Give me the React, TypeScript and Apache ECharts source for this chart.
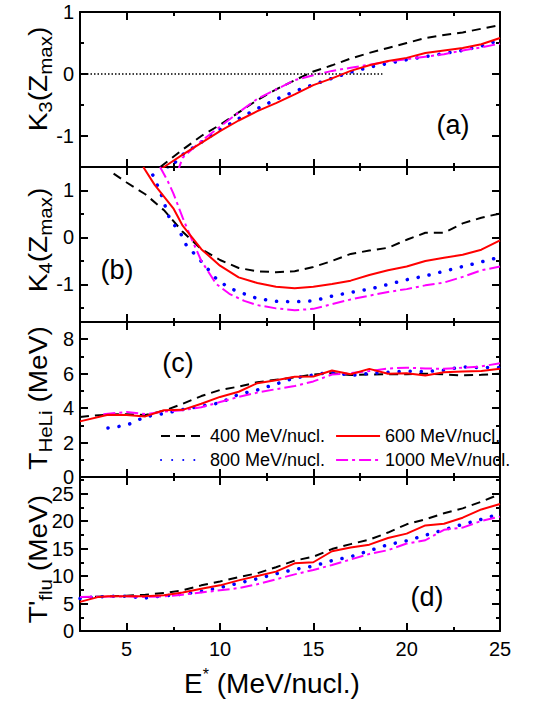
import React, { useEffect, useRef } from "react";
import * as echarts from "echarts";

const FONT = "'Liberation Sans', Arial, Helvetica, sans-serif";

// ---------- axis values ----------
const X_MIN = 2.5;
const X_MAX = 25;
const X_MAJOR = [5, 10, 15, 20, 25];
const X_MINOR = [7.5, 12.5, 17.5, 22.5];

const Y_MIN = [-1.5, -1.8, 0, 0];
const Y_MAX = [1, 1.5, 9, 28];
const Y_MAJOR_A = [-1, 0, 1];
const Y_MINOR_A = [-1.5, -0.5, 0.5];
const Y_MAJOR_B = [-1, 0, 1];
const Y_MINOR_B = [-1.5, -0.5, 0.5, 1.5];
const Y_MAJOR_C = [0, 2, 4, 6, 8];
const Y_MINOR_C = [1, 3, 5, 7, 9];
const Y_MAJOR_D = [0, 5, 10, 15, 20, 25];
const Y_MINOR_D = [2.5, 7.5, 12.5, 17.5, 22.5, 27.5];

const SERIES_NAMES = ["400 MeV/nucl.", "600 MeV/nucl.", "800 MeV/nucl.", "1000 MeV/nucl."];

// ---------- panel (a): K3(Zmax) ----------
const A400_X = [6.8, 8, 9, 10, 11, 12, 13, 14, 15, 16, 17, 18, 19, 20, 21, 22, 23, 24, 25];
const A400_Y = [-1.5, -1.22, -1.0, -0.82, -0.62, -0.42, -0.25, -0.1, 0.04, 0.14, 0.25, 0.34, 0.42, 0.5, 0.58, 0.63, 0.67, 0.73, 0.79];
const A600_X = [6.5, 7, 8, 9, 10, 11, 12, 13, 14, 15, 16, 17, 18, 19, 20, 21, 22, 23, 24, 25];
const A600_Y = [-1.62, -1.5, -1.3, -1.11, -0.92, -0.75, -0.6, -0.47, -0.33, -0.18, -0.07, 0.05, 0.14, 0.21, 0.26, 0.34, 0.38, 0.42, 0.48, 0.58];
const A800_X = [7.2, 8, 9, 10, 11, 12, 13, 14, 15, 16, 17, 18, 19, 20, 21, 22, 23, 24, 25];
const A800_Y = [-1.55, -1.3, -1.1, -0.9, -0.72, -0.56, -0.41, -0.28, -0.17, -0.07, 0.03, 0.11, 0.17, 0.23, 0.28, 0.33, 0.38, 0.45, 0.55];
const A1000_X = [7.7, 8, 9, 10, 11, 12, 13, 14, 15, 16, 17, 18, 19, 20, 21, 22, 23, 24, 25];
const A1000_Y = [-1.6, -1.35, -1.08, -0.85, -0.62, -0.4, -0.25, -0.1, -0.02, 0.05, 0.1, 0.15, 0.2, 0.24, 0.28, 0.32, 0.38, 0.43, 0.49];
const ZERO_X = [2.5, 18.7];
const ZERO_Y = [0, 0];

// ---------- panel (b): K4(Zmax) ----------
const B400_X = [4.3, 5, 6, 7, 8, 9, 10, 11, 12, 13, 14, 15, 16, 17, 18, 19, 20, 21, 22, 23, 24, 25];
const B400_Y = [1.36, 1.17, 0.92, 0.58, 0.12, -0.25, -0.48, -0.65, -0.72, -0.74, -0.72, -0.63, -0.5, -0.35, -0.28, -0.22, -0.05, 0.1, 0.1, 0.3, 0.42, 0.51];
const B600_X = [5.89, 6.5, 7, 7.5, 8, 8.5, 9, 10, 11, 12, 13, 14, 15, 16, 17, 18, 19, 20, 21, 22, 23, 24, 25];
const B600_Y = [1.5, 1.12, 0.87, 0.62, 0.25, 0.0, -0.25, -0.6, -0.85, -0.97, -1.05, -1.08, -1.05, -0.99, -0.92, -0.8, -0.7, -0.62, -0.5, -0.43, -0.37, -0.26, -0.06];
const B800_X = [6.4, 6.8, 7.3, 7.9, 8.2, 8.8, 9.8, 10.5, 11.3, 12, 13, 14, 15, 16, 17, 18, 19, 20, 21, 22, 23, 24, 25];
const B800_Y = [1.33, 0.97, 0.4, 0.08, -0.17, -0.42, -0.88, -1.08, -1.2, -1.3, -1.36, -1.37, -1.35, -1.25, -1.17, -1.1, -1.0, -0.9, -0.82, -0.72, -0.62, -0.52, -0.42];
const B1000_X = [6.79, 7.2, 7.5, 8, 8.5, 9, 9.8, 10.5, 11.3, 12, 13, 14, 15, 16, 17, 18, 19, 20, 21, 22, 23, 24, 25];
const B1000_Y = [1.5, 1.2, 0.94, 0.42, -0.05, -0.5, -0.99, -1.2, -1.35, -1.44, -1.51, -1.55, -1.52, -1.42, -1.32, -1.24, -1.16, -1.1, -1.02, -0.96, -0.84, -0.7, -0.62];

// ---------- panel (c): T_HeLi ----------
const C400_X = [2.5, 3, 4, 5, 6, 7, 8, 9, 10, 11, 12, 13, 14, 15, 16, 17, 18, 19, 20, 21, 22, 23, 24, 25];
const C400_Y = [3.48, 3.55, 3.62, 3.65, 3.6, 3.85, 4.25, 4.7, 5.05, 5.25, 5.5, 5.65, 5.78, 5.95, 6.03, 5.92, 5.95, 5.97, 5.97, 6.0, 5.96, 5.9, 5.93, 6.0];
const C600_X = [2.5, 4, 5, 6, 7, 8, 9, 10, 11, 12, 13, 14, 15, 16, 17, 18, 19, 20, 21, 22, 23, 24, 25];
const C600_Y = [3.23, 3.62, 3.6, 3.52, 3.88, 3.9, 4.25, 4.65, 4.95, 5.45, 5.62, 5.82, 5.84, 6.18, 5.97, 6.28, 5.99, 6.03, 5.89, 6.08, 6.12, 6.15, 6.28];
const C800_X = [4, 5, 6, 7, 8, 9, 10, 11, 12, 13, 14, 15, 16, 17, 18, 19, 20, 21, 22, 23, 24, 25];
const C800_Y = [2.85, 3.0, 3.5, 3.68, 3.92, 4.12, 4.3, 4.8, 5.05, 5.4, 5.75, 5.92, 6.1, 5.89, 6.02, 6.08, 6.15, 6.12, 6.2, 6.4, 6.35, 6.36];
const C1000_X = [3.75, 5, 6, 7, 8, 9, 10, 11, 12, 13, 14, 15, 16, 17, 18, 19, 20, 21, 22, 23, 24, 25];
const C1000_Y = [3.65, 3.77, 3.65, 3.8, 3.88, 4.05, 4.35, 4.65, 4.9, 5.1, 5.28, 5.55, 5.95, 6.03, 6.15, 6.3, 6.35, 6.3, 6.28, 6.35, 6.42, 6.61];

// ---------- panel (d): T'flu ----------
const D400_X = [2.5, 3, 4, 5, 6, 7, 8, 9, 10, 11, 12, 13, 14, 15, 16, 17, 18, 19, 20, 21, 22, 23, 24, 25];
const D400_Y = [6.2, 6.2, 6.3, 6.4, 6.6, 6.9, 7.4, 8.3, 9.0, 9.8, 10.5, 11.6, 12.8, 13.5, 14.9, 15.8, 16.6, 17.9, 19.4, 20.3, 21.4, 22.3, 23.5, 24.9];
const D600_X = [2.5, 3.5, 4, 5, 6, 7, 8, 9, 10, 11, 12, 13, 14, 15, 16, 17, 18, 19, 20, 21, 22, 23, 24, 25];
const D600_Y = [5.3, 6.2, 6.3, 6.3, 6.3, 6.5, 7.0, 7.7, 8.3, 9.2, 10.0, 10.8, 12.3, 12.5, 14.5, 15.2, 15.7, 16.9, 17.7, 19.2, 19.5, 20.6, 22.1, 23.1];
const D800_X = [2.5, 3, 4, 5, 6, 7, 8, 9, 10, 11, 12, 13, 14, 15, 16, 17, 18, 19, 20, 21, 22, 23, 24, 25];
const D800_Y = [5.9, 6.1, 6.3, 6.3, 6.0, 6.4, 6.7, 7.2, 7.9, 8.7, 9.5, 10.4, 11.2, 11.8, 12.8, 13.5, 14.6, 15.7, 16.4, 17.4, 18.4, 19.4, 20.3, 21.3];
const D1000_X = [2.5, 4, 5, 6, 7, 8, 9, 10, 11, 12, 13, 14, 15, 16, 17, 18, 19, 20, 21, 22, 23, 24, 25];
const D1000_Y = [6.2, 6.25, 6.3, 6.2, 6.3, 6.6, 7.0, 7.4, 7.8, 8.5, 9.4, 10.3, 11.1, 12.0, 13.0, 14.0, 14.7, 15.9, 16.5, 18.4, 18.8, 20.0, 20.8];

// ---------- layout ----------
const GRID_LEFT = 80;
const GRID_WIDTH = 420;
const GRID_TOPS = [12, 167, 322, 477];
const GRID_HEIGHTS = [155, 155, 155, 154];

const STYLES = [
  { color: "#000000", type: [9, 6] as number[], width: 2, cap: "butt" },
  { color: "#ff0000", type: "solid" as any, width: 2, cap: "butt" },
  { color: "#0000ff", type: [0.1, 11] as number[], width: 3.5, cap: "round" },
  { color: "#ff00ff", type: [12, 4, 3, 4] as number[], width: 2, cap: "butt" },
];

function pairs(xs: number[], ys: number[]) {
  return xs.map((x, i) => [x, ys[i]]);
}

const PANEL_DATA: number[][][] = [
  [A400_X, A400_Y, A600_X, A600_Y, A800_X, A800_Y, A1000_X, A1000_Y],
  [B400_X, B400_Y, B600_X, B600_Y, B800_X, B800_Y, B1000_X, B1000_Y],
  [C400_X, C400_Y, C600_X, C600_Y, C800_X, C800_Y, C1000_X, C1000_Y],
  [D400_X, D400_Y, D600_X, D600_Y, D800_X, D800_Y, D1000_X, D1000_Y],
];
const Y_MAJORS = [Y_MAJOR_A, Y_MAJOR_B, Y_MAJOR_C, Y_MAJOR_D];
const Y_MINORS = [Y_MINOR_A, Y_MINOR_B, Y_MINOR_C, Y_MINOR_D];

const tickLine = { color: "#000", width: 2 };

function makeX(g: number, position: string, major: boolean, withLine: boolean, label: boolean) {
  return {
    type: "value",
    gridIndex: g,
    position,
    min: X_MIN,
    max: X_MAX,
    splitLine: { show: false },
    axisLine: { show: withLine, onZero: false, lineStyle: { color: "#000", width: 2 } },
    axisTick: {
      show: true,
      inside: true,
      length: major ? 8 : 4,
      customValues: major ? X_MAJOR : X_MINOR,
      lineStyle: tickLine,
    },
    axisLabel: {
      show: label,
      customValues: X_MAJOR,
      fontSize: 20,
      color: "#000",
      fontFamily: FONT,
      margin: 8,
    },
  };
}

function makeY(g: number, position: string, major: boolean, withLine: boolean, label: boolean) {
  return {
    type: "value",
    gridIndex: g,
    position,
    min: Y_MIN[g],
    max: Y_MAX[g],
    splitLine: { show: false },
    axisLine: { show: withLine, onZero: false, lineStyle: { color: "#000", width: 2 } },
    axisTick: {
      show: true,
      inside: true,
      length: major ? 8 : 4,
      customValues: major ? Y_MAJORS[g] : Y_MINORS[g],
      lineStyle: tickLine,
    },
    axisLabel: {
      show: label,
      customValues: Y_MAJORS[g],
      fontSize: 20,
      color: "#000",
      fontFamily: FONT,
      margin: 6,
    },
  };
}

function buildOption() {
  const grid: any[] = [];
  const xAxis: any[] = [];
  const yAxis: any[] = [];
  const series: any[] = [];
  for (let g = 0; g < 4; g++) {
    grid.push({ left: GRID_LEFT, width: GRID_WIDTH, top: GRID_TOPS[g], height: GRID_HEIGHTS[g], containLabel: false });
    xAxis.push(makeX(g, "bottom", true, true, g === 3));
    xAxis.push(makeX(g, "bottom", false, false, false));
    xAxis.push(makeX(g, "top", true, true, false));
    xAxis.push(makeX(g, "top", false, false, false));
    yAxis.push(makeY(g, "left", true, true, true));
    yAxis.push(makeY(g, "left", false, false, false));
    yAxis.push(makeY(g, "right", true, true, false));
    yAxis.push(makeY(g, "right", false, false, false));
    const d = PANEL_DATA[g];
    for (let s = 0; s < 4; s++) {
      const st = STYLES[s];
      series.push({
        type: "line",
        name: SERIES_NAMES[s],
        xAxisIndex: g * 4,
        yAxisIndex: g * 4,
        data: pairs(d[s * 2], d[s * 2 + 1]),
        showSymbol: false,
        symbol: "none",
        smooth: false,
        clip: true,
        z: s === 1 ? 4 : 3,
        lineStyle: { color: st.color, width: st.width, type: st.type, cap: st.cap },
        itemStyle: { color: st.color },
      });
    }
  }
  series.push({
    type: "line",
    name: "zero",
    xAxisIndex: 0,
    yAxisIndex: 0,
    data: pairs(ZERO_X, ZERO_Y),
    showSymbol: false,
    symbol: "none",
    lineStyle: { color: "#000", width: 1.3, type: [1.5, 2] },
  });

  const legendCommon = {
    left: 160,
    padding: 0,
    itemWidth: 44,
    itemHeight: 14,
    itemGap: 10,
    itemStyle: { opacity: 0, borderWidth: 0 },
    textStyle: { fontSize: 18, color: "#000", fontFamily: FONT },
    selectedMode: false,
  };

  const titleRich = {
    a: { fontSize: 26, lineHeight: 34, fontFamily: FONT, fill: "#000" },
    s: { fontSize: 19, lineHeight: 19, fontFamily: FONT, fill: "#000", verticalAlign: "bottom" },
  };
  const yTitle = (text: string, x: number, y: number) => ({
    type: "text",
    x,
    y,
    rotation: Math.PI / 2,
    scaleX: 1.08,
    style: {
      text,
      rich: titleRich,
      align: "center",
      verticalAlign: "middle",
      textAlign: "center",
      textVerticalAlign: "middle",
      fill: "#000",
    },
  });
  const panelLabel = (text: string, x: number, y: number) => ({
    type: "text",
    x,
    y,
    style: {
      text,
      fontSize: 27,
      fontFamily: FONT,
      fill: "#000",
      align: "center",
      verticalAlign: "middle",
      textAlign: "center",
      textVerticalAlign: "middle",
    },
  });

  return {
    animation: false,
    backgroundColor: "#ffffff",
    grid,
    xAxis,
    yAxis,
    series,
    legend: [
      { ...legendCommon, top: 427, data: [SERIES_NAMES[0], SERIES_NAMES[1]] },
      { ...legendCommon, top: 451, data: [SERIES_NAMES[2], SERIES_NAMES[3]] },
    ],
    graphic: [
      yTitle("{a|K}{s|3}{a|(Z}{s|max}{a|)}", 38, 79),
      yTitle("{a|K}{s|4}{a|(Z}{s|max}{a|)}", 38, 240),
      yTitle("{a|T}{s|HeLi}{a| (MeV)}", 38, 398),
      yTitle("{a|T'}{s|flu}{a| (MeV)}", 38, 559),
      panelLabel("(a)", 453, 125),
      panelLabel("(b)", 117, 270),
      panelLabel("(c)", 178, 363),
      panelLabel("(d)", 427, 597),
      {
        type: "text",
        x: 272,
        y: 683,
        style: {
          text: "{a|E}{s|*}{a| (MeV/nucl.)}",
          rich: {
            a: { fontSize: 28, lineHeight: 34, fontFamily: FONT, fill: "#000" },
            s: { fontSize: 16, lineHeight: 16, fontFamily: FONT, fill: "#000", verticalAlign: "top" },
          },
          align: "center",
          verticalAlign: "middle",
          textAlign: "center",
          textVerticalAlign: "middle",
        },
      },
    ],
  };
}

export default function App() {
  const ref = useRef<HTMLDivElement>(null);
  useEffect(() => {
    if (!ref.current) return;
    const chart = echarts.init(ref.current, null, { renderer: "svg" });
    chart.setOption(buildOption() as any);
    return () => chart.dispose();
  }, []);
  return (
    <div
      ref={ref}
      style={{ position: "fixed", left: 0, top: 0, width: 548, height: 705, background: "#fff" }}
    />
  );
}
